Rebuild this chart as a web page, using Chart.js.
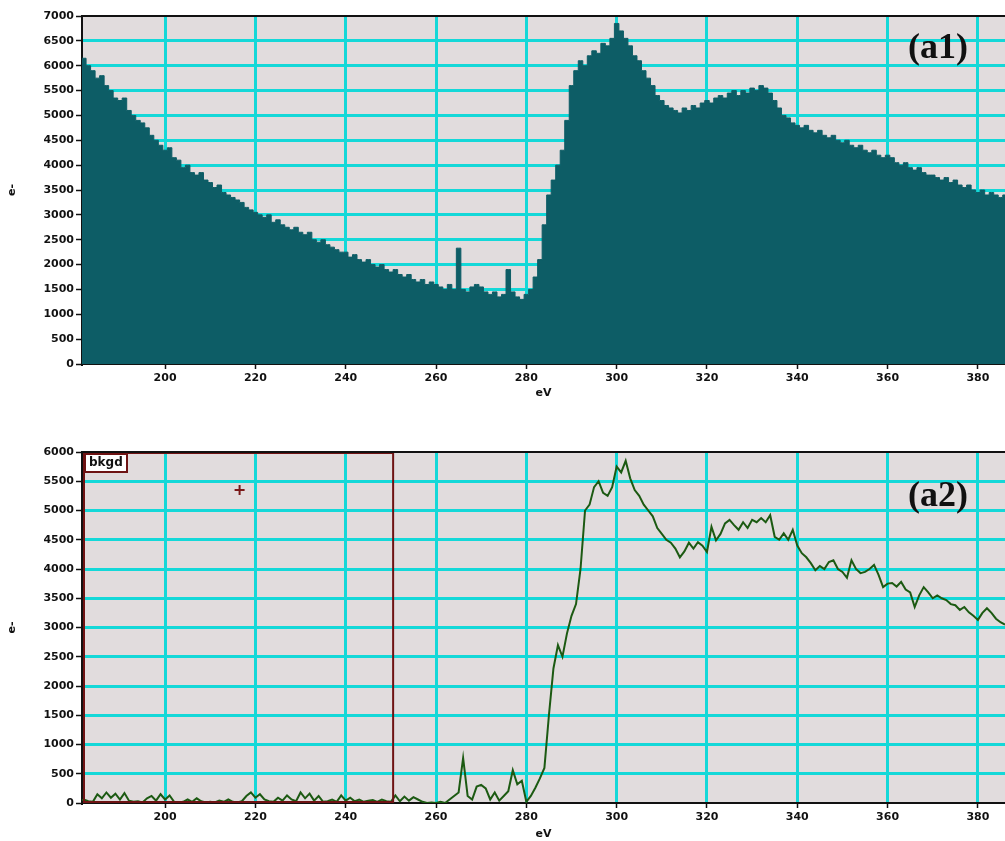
<!DOCTYPE html>
<html>
<head>
<meta charset="utf-8">
<script src="https://cdn.jsdelivr.net/npm/chart.js@4.4.1/dist/chart.umd.min.js"></script>
<style>
  html, body { margin: 0; padding: 0; background: #fff; }
  body { width: 1005px; height: 841px; position: relative; overflow: hidden; }
  .box { position: absolute; left: 0; width: 1005px; }
  #top-box { top: 0; height: 400px; }
  #bot-box { top: 410px; height: 431px; }
</style>
</head>
<body>
<div class="box" id="top-box"><canvas id="chart-a1"></canvas></div>
<div class="box" id="bot-box"><canvas id="chart-a2"></canvas></div>
<script>
// energy axis (eV), one sample per eV
const energies = [
  181,182,183,184,185,186,187,188,189,190,191,192,193,194,195,196,197,198,199,200,
  201,202,203,204,205,206,207,208,209,210,211,212,213,214,215,216,217,218,219,220,
  221,222,223,224,225,226,227,228,229,230,231,232,233,234,235,236,237,238,239,240,
  241,242,243,244,245,246,247,248,249,250,251,252,253,254,255,256,257,258,259,260,
  261,262,263,264,265,266,267,268,269,270,271,272,273,274,275,276,277,278,279,280,
  281,282,283,284,285,286,287,288,289,290,291,292,293,294,295,296,297,298,299,300,
  301,302,303,304,305,306,307,308,309,310,311,312,313,314,315,316,317,318,319,320,
  321,322,323,324,325,326,327,328,329,330,331,332,333,334,335,336,337,338,339,340,
  341,342,343,344,345,346,347,348,349,350,351,352,353,354,355,356,357,358,359,360,
  361,362,363,364,365,366,367,368,369,370,371,372,373,374,375,376,377,378,379,380,
  381,382,383,384,385,386
];

// (a1) raw spectrum, counts
const rawCounts = [
  6200,
  6150,6000,5900,5750,5800,5600,5500,5350,5300,5350,
  5100,5000,4900,4850,4750,4600,4500,4400,4300,4350,
  4150,4100,3950,4000,3850,3800,3850,3700,3650,3550,
  3600,3450,3400,3350,3300,3250,3150,3100,3050,3000,
  2950,3000,2850,2900,2800,2750,2700,2750,2650,2600,
  2650,2500,2450,2500,2400,2350,2300,2250,2250,2150,
  2200,2100,2050,2100,2000,1950,2000,1900,1850,1900,
  1800,1750,1800,1700,1650,1700,1600,1650,1600,1550,
  1500,1600,1500,2330,1500,1450,1550,1600,1550,1450,
  1400,1450,1350,1400,1900,1450,1350,1300,1400,1500,
  1750,2100,2800,3400,3700,4000,4300,4900,5600,5900,
  6100,6000,6200,6300,6250,6450,6400,6550,6850,6700,
  6550,6400,6200,6100,5900,5750,5600,5400,5300,5200,
  5150,5100,5050,5150,5100,5200,5150,5250,5300,5250,
  5350,5400,5350,5450,5500,5400,5500,5450,5550,5500,
  5600,5550,5450,5300,5150,5000,4950,4850,4800,4750,
  4800,4700,4650,4700,4600,4550,4600,4500,4450,4500,
  4400,4350,4400,4300,4250,4300,4200,4150,4200,4150,
  4050,4000,4050,3950,3900,3950,3850,3800,3800,3750,
  3700,3750,3650,3700,3600,3550,3600,3500,3450,3500,
  3400,3450,3400,3350,3400
];

// (a2) background-subtracted spectrum, counts
const edgeCounts = [
  40,
  60,30,20,150,80,180,90,160,60,170,
  40,20,30,10,80,120,40,150,60,130,
  20,10,20,60,20,80,30,10,20,10,
  40,20,60,20,10,30,120,180,90,150,
  60,30,20,90,40,130,60,30,180,80,
  160,40,120,20,30,60,20,130,40,90,
  30,60,20,40,50,20,60,30,20,130,
  30,110,40,100,60,20,0,10,0,20,
  0,60,120,180,770,120,60,280,310,250,
  60,180,40,120,200,560,320,380,20,120,
  260,420,600,1500,2300,2700,2500,2900,3200,3400,
  4000,5000,5100,5400,5500,5300,5250,5400,5750,5650,
  5850,5550,5350,5250,5100,5000,4900,4700,4600,4500,
  4450,4350,4200,4300,4450,4350,4460,4400,4290,4720,
  4490,4600,4780,4840,4750,4670,4800,4700,4840,4800,
  4870,4800,4920,4550,4500,4610,4500,4670,4400,4270,
  4200,4100,3980,4050,4000,4120,4150,4000,3950,3850,
  4150,4000,3930,3950,4000,4070,3900,3690,3750,3760,
  3700,3780,3650,3600,3350,3550,3690,3600,3500,3550,
  3500,3470,3400,3380,3300,3350,3260,3200,3130,3250,
  3330,3250,3150,3090,3050
];

const xRange = [181.6, 386];
const bkgdRange = [181.6, 250.5];
const cursorPoint = [{ x: 216.5, y: 5350 }];

const tickFont = { family: 'DejaVu Sans', size: 11, weight: 'bold' };

// plot background, top frame, panel tag and the bkgd window
const plotDecor = {
  id: 'plotDecor',
  beforeDraw(chart) {
    const a = chart.chartArea, c = chart.ctx;
    c.save();
    c.fillStyle = '#e1dcdd';
    c.fillRect(a.left, a.top, a.right - a.left, a.bottom - a.top);
    c.restore();
  },
  afterDraw(chart, args, opts) {
    const a = chart.chartArea, c = chart.ctx;
    c.save();
    if (opts.bkgd) {
      const xs = chart.scales.x;
      const x0 = xs.getPixelForValue(opts.bkgd[0]);
      const x1 = xs.getPixelForValue(opts.bkgd[1]);
      c.strokeStyle = '#6e1313';
      c.lineWidth = 2;
      c.strokeRect(x0 + 2, a.top + 1, x1 - x0 - 2, a.bottom - a.top - 2);
      c.fillStyle = '#fff';
      c.fillRect(x0 + 3, a.top + 2, 42, 18);
      c.strokeRect(x0 + 3, a.top + 2, 42, 18);
      c.fillStyle = '#111';
      c.font = 'bold 12px "DejaVu Sans"';
      c.textBaseline = 'middle';
      c.fillText('bkgd', x0 + 7, a.top + 11);
    }
    c.strokeStyle = '#111';
    c.lineWidth = 2;
    c.beginPath();
    c.moveTo(a.left, a.top);
    c.lineTo(a.right, a.top);
    c.stroke();
    c.fillStyle = '#111';
    c.font = 'bold 36px "Liberation Serif"';
    c.textAlign = 'right';
    c.textBaseline = 'middle';
    c.fillText(opts.tag, a.right - 37, a.top + opts.tagDy);
    c.restore();
  }
};

function axes(yMax, xHeight) {
  return {
    x: {
      type: 'linear',
      min: xRange[0],
      max: xRange[1],
      afterFit: s => { s.height = xHeight; },
      ticks: { stepSize: 20, includeBounds: false, color: '#111', font: tickFont, padding: 3, maxRotation: 0 },
      grid: { color: '#14d8d8', lineWidth: 3, tickColor: '#111', tickLength: 5, tickWidth: 1.5 },
      border: { color: '#111', width: 2 },
      title: { display: true, text: 'eV', color: '#111', font: tickFont, padding: { top: 0, bottom: 0 } }
    },
    y: {
      min: 0,
      max: yMax,
      afterFit: s => { s.width = 82; },
      ticks: { stepSize: 500, color: '#111', font: tickFont, padding: 2, callback: v => String(v) },
      grid: {
        color: ctx => (ctx.tick && (ctx.tick.value === 0 || ctx.tick.value === yMax)) ? 'rgba(0,0,0,0)' : '#14d8d8',
        lineWidth: 3, tickColor: '#111', tickLength: 6, tickWidth: 1.5
      },
      border: { color: '#111', width: 2 },
      title: { display: true, text: 'e-', color: '#111', font: tickFont, padding: { top: 6, bottom: 4 } }
    }
  };
}

function points(vals) {
  return energies.map((e, i) => ({ x: e, y: vals[i] }));
}

new Chart(document.getElementById('chart-a1'), {
  type: 'line',
  data: {
    datasets: [{
      data: points(rawCounts),
      borderColor: '#0d5d66',
      backgroundColor: '#0d5d66',
      borderWidth: 1,
      fill: 'origin',
      stepped: 'middle',
      pointRadius: 0
    }]
  },
  options: {
    responsive: true,
    maintainAspectRatio: false,
    animation: false,
    layout: { autoPadding: false, padding: { top: 16, right: 0, bottom: 0, left: 0 } },
    scales: axes(7000, 36),
    plugins: {
      legend: { display: false },
      tooltip: { enabled: false },
      plotDecor: { tag: '(a1)', tagDy: 33 }
    }
  },
  plugins: [plotDecor]
});

new Chart(document.getElementById('chart-a2'), {
  type: 'line',
  data: {
    datasets: [{
      data: points(edgeCounts),
      borderColor: '#1c5a12',
      borderWidth: 2,
      fill: false,
      pointRadius: 0,
      tension: 0
    }, {
      data: cursorPoint,
      showLine: false,
      pointStyle: 'cross',
      pointRadius: 5,
      pointBorderWidth: 2,
      pointBorderColor: '#7a1818'
    }]
  },
  options: {
    responsive: true,
    maintainAspectRatio: false,
    animation: false,
    layout: { autoPadding: false, padding: { top: 42, right: 0, bottom: 0, left: 0 } },
    scales: axes(6000, 38),
    plugins: {
      legend: { display: false },
      tooltip: { enabled: false },
      plotDecor: { tag: '(a2)', tagDy: 45, bkgd: bkgdRange }
    }
  },
  plugins: [plotDecor]
});
</script>
</body>
</html>
